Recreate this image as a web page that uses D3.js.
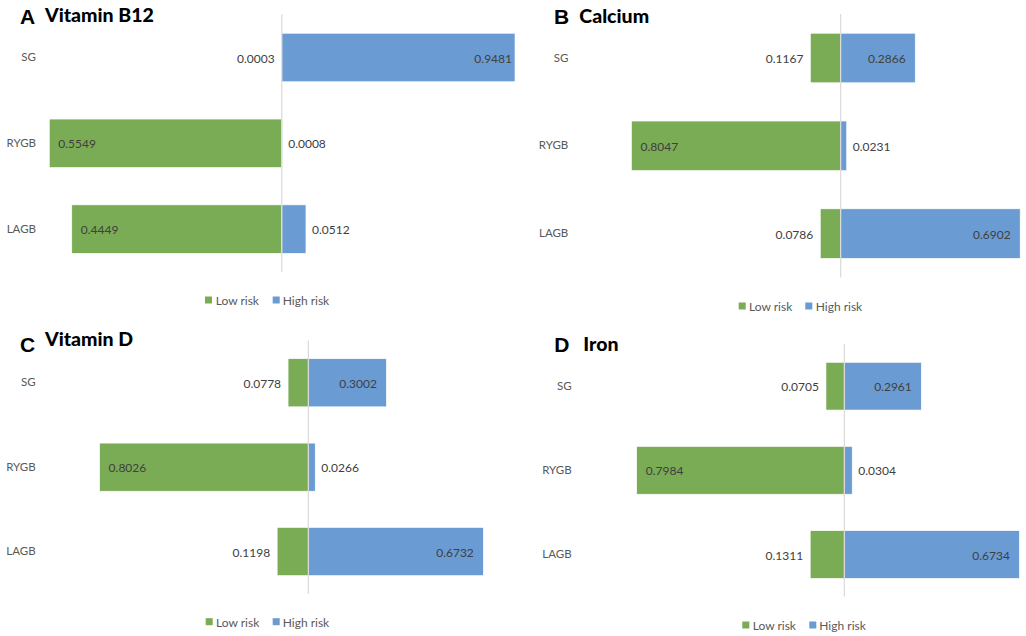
<!DOCTYPE html>
<html><head><meta charset="utf-8">
<script src="https://cdn.jsdelivr.net/npm/d3@7"></script>
<style>body{margin:0;background:#fff}svg{display:block}</style>
</head><body>
<svg id="c" width="1026" height="636"></svg>
<script>
// ---- data ----
const categories = ["SG", "RYGB", "LAGB"];
const panelLetters = ["A", "B", "C", "D"];
const nutrients = ["Vitamin B12", "Calcium", "Vitamin D", "Iron"];
const seriesNames = ["Low risk", "High risk"];
const lowRisk = [
  [0.0003, 0.5549, 0.4449],
  [0.1167, 0.8047, 0.0786],
  [0.0778, 0.8026, 0.1198],
  [0.0705, 0.7984, 0.1311]
];
const highRisk = [
  [0.9481, 0.0008, 0.0512],
  [0.2866, 0.0231, 0.6902],
  [0.3002, 0.0266, 0.6732],
  [0.2961, 0.0304, 0.6734]
];

// ---- layout (pixels) ----
const layout = [
  {cx: 281.7, xDom: [-0.4925, 0.494], xRange: [49.3, 515], yRange: [14.6, 272], pad: 0.435,
   catX: 36, legY: 300, leg: [205, 215.7, 272.7, 282.7], letter: [20, 24], title: [45, 22]},
  {cx: 840.7, xDom: [-1, 1], xRange: [580.7, 1100.7], yRange: [14.1, 277.5], pad: 0.436,
   catX: 568.3, legY: 306, leg: [738.7, 749, 805.3, 815.7], letter: [554, 23.5], title: [579.3, 23]},
  {cx: 308.3, xDom: [-1, 1], xRange: [48.3, 568.3], yRange: [340.6, 593.7], pad: 0.43,
   catX: 35.7, legY: 621.7, leg: [205.7, 216, 272.7, 282.7], letter: [20, 351.7], title: [45, 345.7]},
  {cx: 844.3, xDom: [-1, 1], xRange: [584.3, 1104.3], yRange: [344.1, 596.6], pad: 0.433,
   catX: 571.7, legY: 625, leg: [742.3, 752.7, 809.3, 819.3], letter: [554.3, 351.7], title: [583.3, 350.7]}
];
const GREEN = "#7aab55", BLUE = "#6a9bd3";
const fmt = d3.format(".4f");
const svg = d3.select("#c");
const FONT = "Lato, 'Open Sans', sans-serif";

layout.forEach((L, i) => {
  const g = svg.append("g");
  const xu = d3.scaleLinear().domain(L.xDom).range(L.xRange);
  const x = xu.copy().clamp(true);
  const y = d3.scaleBand().domain(categories).range(L.yRange)
    .paddingInner(L.pad).paddingOuter(L.pad / 2);
  const x0 = x(0);

  // titles
  g.append("text").attr("x", L.letter[0]).attr("y", L.letter[1])
    .attr("font-family", "'Liberation Sans', Arial, sans-serif").attr("font-weight", "bold")
    .attr("font-size", 21).attr("fill", "#000").text(panelLetters[i]);
  g.append("text").attr("x", L.title[0]).attr("y", L.title[1])
    .attr("font-family", FONT).attr("font-weight", 900)
    .attr("font-size", 19.5).attr("fill", "#000").text(nutrients[i]);

  // axis (category) labels
  const yAxis = d3.axisLeft(y).tickSize(0).tickPadding(0);
  const ya = g.append("g").attr("transform", `translate(${L.catX},0)`).call(yAxis);
  ya.select(".domain").remove();
  ya.selectAll("text").attr("font-family", FONT).attr("font-size", 11.5).attr("fill", "#595959");

  // bars
  const rows = categories.map((c, j) => ({c, lo: lowRisk[i][j], hi: highRisk[i][j]}));
  g.selectAll(".lo").data(rows).join("rect")
    .attr("x", d => x(-d.lo)).attr("width", d => x0 - x(-d.lo))
    .attr("y", d => y(d.c)).attr("height", y.bandwidth())
    .attr("fill", GREEN).attr("stroke", "#fff").attr("stroke-width", 0.6);
  g.selectAll(".hi").data(rows).join("rect")
    .attr("x", x0).attr("width", d => x(d.hi) - x0)
    .attr("y", d => y(d.c)).attr("height", y.bandwidth())
    .attr("fill", BLUE).attr("stroke", "#fff").attr("stroke-width", 0.6);

  // zero line
  g.append("line").attr("x1", x0).attr("x2", x0)
    .attr("y1", L.yRange[0]).attr("y2", L.yRange[1])
    .attr("stroke", "#d9d9d9").attr("stroke-width", 1.2);

  // value labels
  const lab = (sel) => sel.attr("font-family", FONT).attr("font-size", 12)
    .attr("fill", "#404040").attr("dominant-baseline", "central");
  rows.forEach(d => {
    const yc = y(d.c) + y.bandwidth() / 2 + 0.5;
    const wl = x0 - x(-d.lo);
    if (wl > 50) {
      lab(g.append("text")).attr("x", Math.max(xu(-d.lo) + 9, L.xRange[0] + 9)).attr("y", yc)
        .attr("text-anchor", "start").text(fmt(d.lo));
    } else {
      lab(g.append("text")).attr("x", x(-d.lo) - 7).attr("y", yc)
        .attr("text-anchor", "end").text(fmt(d.lo));
    }
    const wh = x(d.hi) - x0;
    if (wh > 50) {
      lab(g.append("text")).attr("x", Math.min(xu(d.hi) - 9.5, L.xRange[1] - 3)).attr("y", yc)
        .attr("text-anchor", "end").text(fmt(d.hi));
    } else {
      lab(g.append("text")).attr("x", x(d.hi) + 6).attr("y", yc)
        .attr("text-anchor", "start").text(fmt(d.hi));
    }
  });

  // legend
  const cols = [GREEN, BLUE];
  seriesNames.forEach((s, k) => {
    g.append("rect").attr("x", L.leg[k * 2]).attr("y", L.legY - 3.5)
      .attr("width", 7).attr("height", 7).attr("fill", cols[k]);
    g.append("text").attr("x", L.leg[k * 2 + 1]).attr("y", L.legY + 0.5)
      .attr("dominant-baseline", "central")
      .attr("font-family", FONT).attr("font-size", 12).attr("fill", "#595959").text(s);
  });
});
</script>
</body></html>
